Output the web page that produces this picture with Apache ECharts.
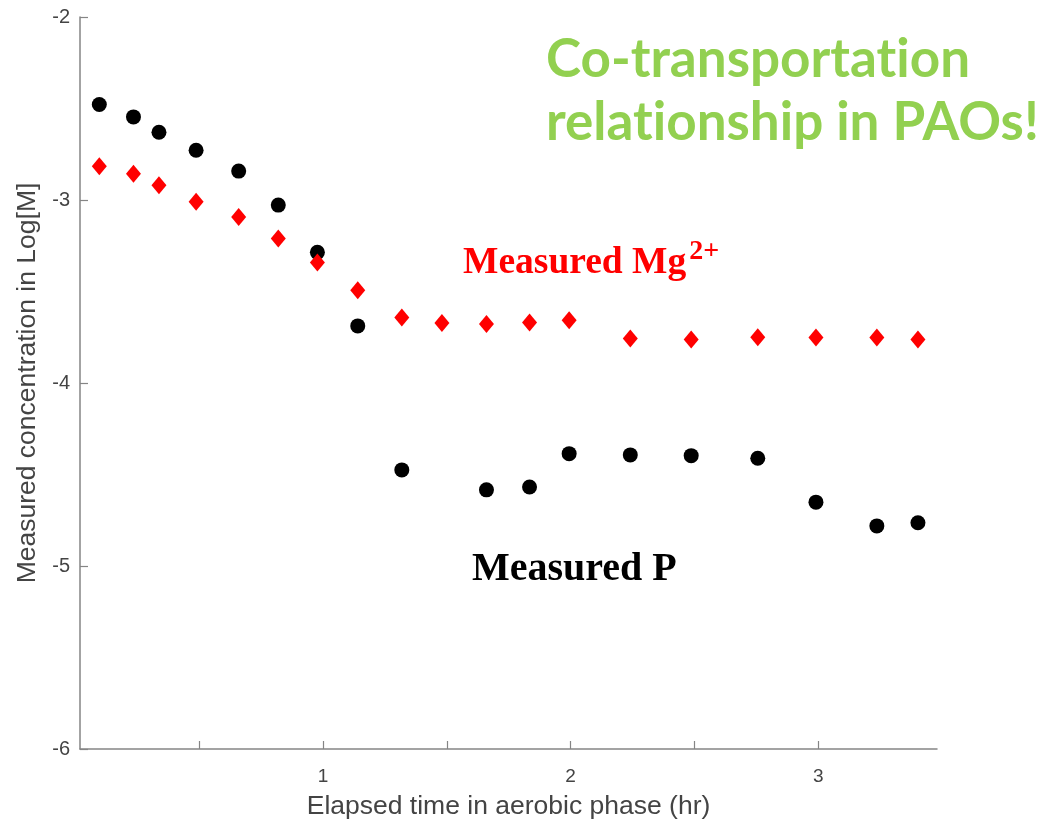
<!DOCTYPE html>
<html>
<head>
<meta charset="utf-8">
<script src="https://cdn.jsdelivr.net/npm/echarts@6/dist/echarts.min.js"></script>
<style>
html,body{margin:0;padding:0;background:#fff;}
#chart{width:1051px;height:823px;}
</style>
</head>
<body>
<div id="chart"></div>
<script>
// Data
const pTime = [0.096, 0.234, 0.337, 0.487, 0.659, 0.819, 0.977, 1.140, 1.318, 1.660, 1.834, 1.994, 2.241, 2.487, 2.756, 2.991, 3.237, 3.403];
const pLog  = [-2.478, -2.546, -2.630, -2.728, -2.842, -3.028, -3.286, -3.688, -4.475, -4.584, -4.568, -4.386, -4.393, -4.397, -4.411, -4.651, -4.781, -4.764];
const mgTime = [0.096, 0.234, 0.337, 0.487, 0.659, 0.819, 0.977, 1.140, 1.318, 1.480, 1.660, 1.834, 1.994, 2.241, 2.487, 2.756, 2.991, 3.237, 3.403];
const mgLog  = [-2.815, -2.857, -2.919, -3.009, -3.093, -3.210, -3.341, -3.493, -3.642, -3.672, -3.677, -3.669, -3.657, -3.757, -3.762, -3.750, -3.751, -3.751, -3.762];
const xTickValues = [0.5, 1, 1.5, 2, 2.5, 3];
const xLabelValues = [1, 2, 3];
const titleLines = ['Co-transportation', 'relationship in PAOs!'];
const xName = 'Elapsed time in aerobic phase (hr)';
const yName = 'Measured concentration in Log[M]';

const pData = pTime.map((t, i) => [t, pLog[i]]);
const mgData = mgTime.map((t, i) => [t, mgLog[i]]);
// draw "i" after "t" as its own rich token so Lato does not merge "ti" into a ligature
const titleRich = titleLines.map(l => l.replace(/ti/g, 't{g|i}')).join('\n');

const chart = echarts.init(document.getElementById('chart'), null, {renderer: 'canvas'});
const axisColor = '#858585';
const labelColor = '#444';
const titleFont = {fontFamily: 'Lato', fontWeight: 'bold', fontSize: 53, lineHeight: 63, color: '#92D050'};
chart.setOption({
  backgroundColor: '#fff',
  animation: false,
  title: {
    text: titleRich,
    left: 541,
    top: 23,
    textStyle: Object.assign({}, titleFont, {rich: {g: Object.assign({}, titleFont)}})
  },
  grid: {left: 80, right: 114, top: 17, bottom: 74, containLabel: false, outerBoundsMode: 'none'},
  xAxis: {
    type: 'value',
    min: 0.018,
    max: 3.48,
    name: xName,
    nameLocation: 'middle',
    nameGap: 44,
    nameTextStyle: {fontFamily: 'Liberation Sans', fontSize: 26.5, color: labelColor},
    axisLine: {show: true, lineStyle: {color: axisColor, width: 1.5}},
    axisTick: {show: true, inside: true, length: 8, customValues: xTickValues, lineStyle: {color: axisColor, width: 1.2}},
    axisLabel: {show: true, customValues: xLabelValues, margin: 18, fontFamily: 'Liberation Sans', fontSize: 19, color: labelColor},
    splitLine: {show: false}
  },
  yAxis: {
    type: 'value',
    min: -6,
    max: -2,
    interval: 1,
    name: yName,
    nameLocation: 'middle',
    nameGap: 36,
    nameRotate: 90,
    nameTextStyle: {fontFamily: 'Liberation Sans', fontSize: 26.5, color: labelColor},
    axisLine: {show: true, lineStyle: {color: axisColor, width: 1.5}},
    axisTick: {show: true, inside: true, length: 8, lineStyle: {color: axisColor, width: 1.2}},
    axisLabel: {show: true, margin: 10, fontFamily: 'Liberation Sans', fontSize: 20, color: labelColor},
    splitLine: {show: false}
  },
  series: [
    {
      name: 'Measured P',
      type: 'scatter',
      data: pData,
      symbol: 'circle',
      symbolSize: 15,
      itemStyle: {color: '#000', opacity: 1},
      z: 2
    },
    {
      name: 'Measured Mg2+',
      type: 'scatter',
      data: mgData,
      symbol: 'diamond',
      symbolSize: [15, 18],
      itemStyle: {color: '#ff0000', opacity: 1},
      z: 3
    }
  ],
  graphic: [
    {
      type: 'text',
      left: 463,
      top: 238,
      style: {
        fill: '#ff0000',
        text: '{a|Measured Mg}{s|2+}',
        rich: {
          a: {fontFamily: 'Liberation Serif', fontWeight: 'bold', fontSize: 37.5, fill: '#ff0000', verticalAlign: 'bottom', lineHeight: 44},
          s: {fontFamily: 'Liberation Serif', fontWeight: 'bold', fontSize: 28, fill: '#ff0000', verticalAlign: 'top', lineHeight: 24, padding: [0, 0, 0, 3]}
        }
      }
    },
    {
      type: 'text',
      left: 472,
      top: 550,
      style: {
        text: 'Measured P',
        fontFamily: 'Liberation Serif',
        fontWeight: 'bold',
        fontSize: 40,
        fill: '#000'
      }
    }
  ]
});
</script>
</body>
</html>
